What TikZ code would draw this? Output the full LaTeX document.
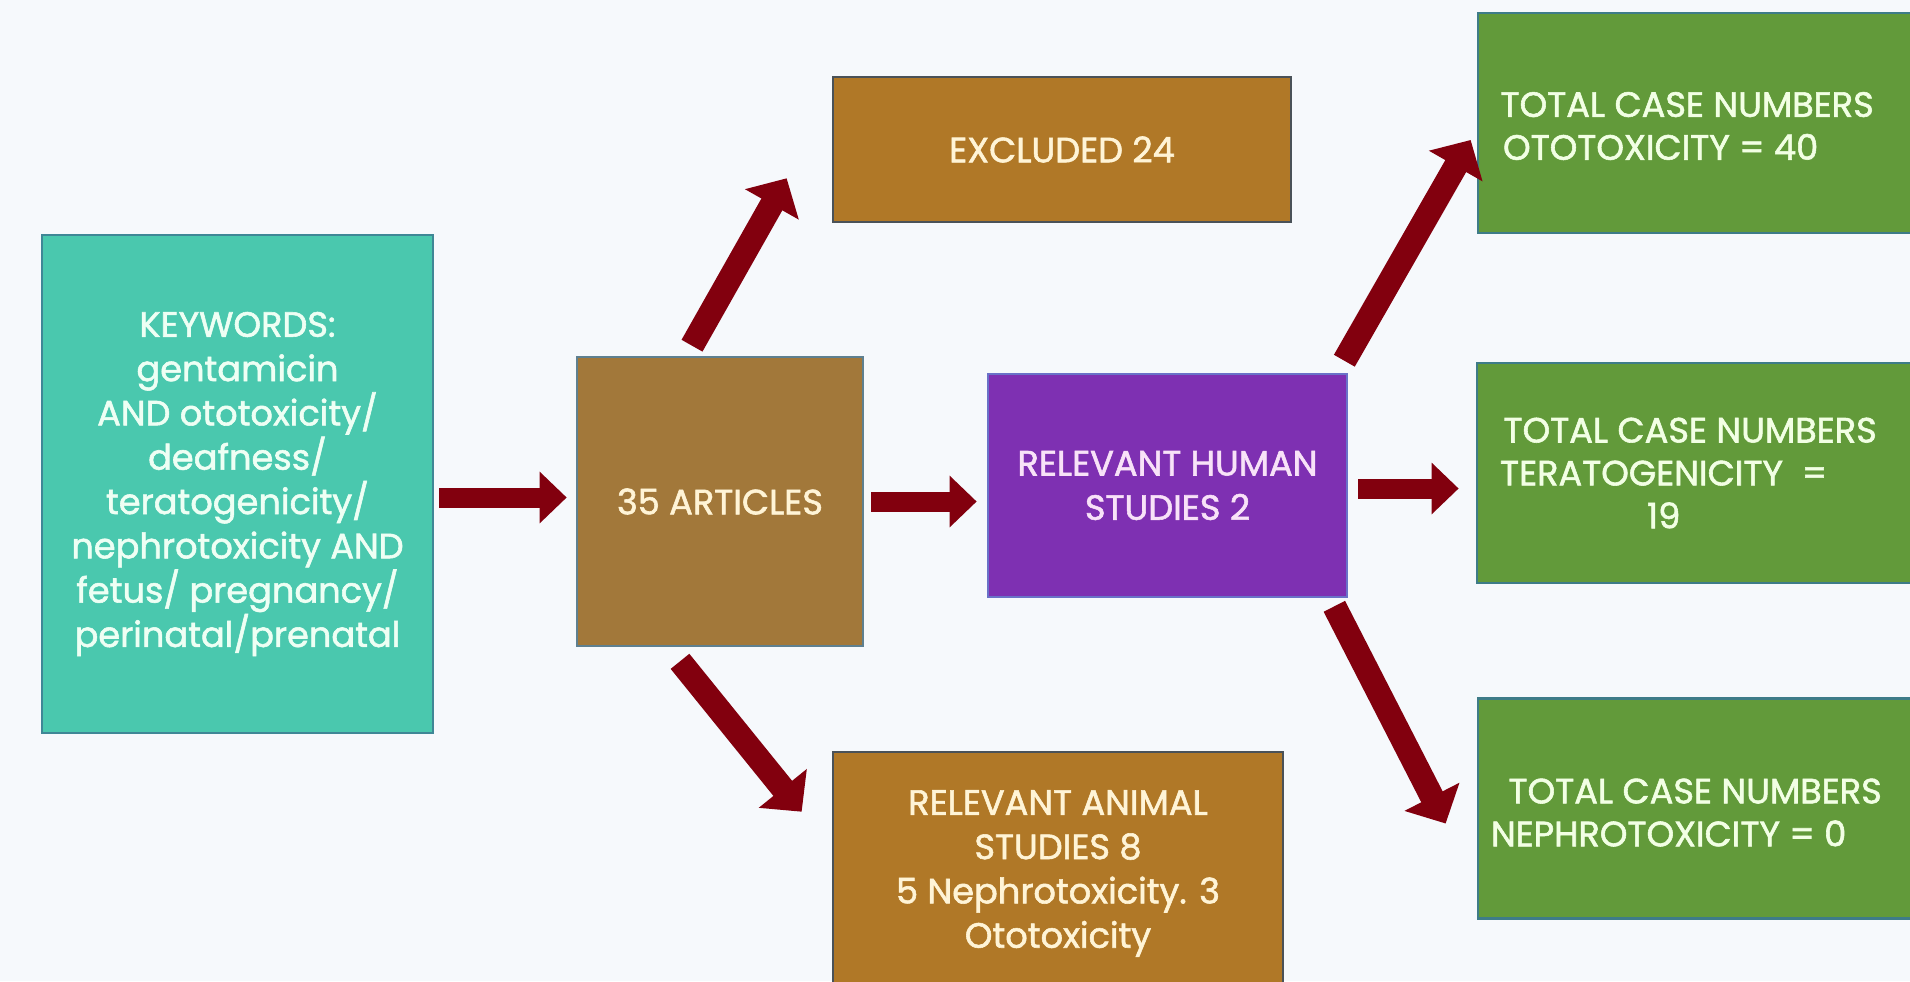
\documentclass[tikz,border=0pt]{standalone}
\usepackage{fontspec}
\setmainfont{Poppins}[FakeBold=1.6]
\usetikzlibrary{arrows.meta,calc}
\definecolor{bgpaper}{HTML}{F6F9FC}
\definecolor{keyteal}{HTML}{4AC8AE}
\definecolor{keyedge}{HTML}{3F8796}
\definecolor{keytext}{HTML}{EEFFF4}
\definecolor{artbrown}{HTML}{A2783A}
\definecolor{artedge}{HTML}{5E8090}
\definecolor{exclbrown}{HTML}{B07827}
\definecolor{excledge}{HTML}{4A5258}
\definecolor{browntext}{HTML}{FFF4D6}
\definecolor{humpurple}{HTML}{7E30B2}
\definecolor{humedge}{HTML}{6A72C8}
\definecolor{humtext}{HTML}{F8E2F8}
\definecolor{casegreen}{HTML}{629A3A}
\definecolor{caseedge}{HTML}{3E7C88}
\definecolor{casetext}{HTML}{F2FFE4}
\definecolor{arrowred}{HTML}{82000E}
\begin{document}
\begin{tikzpicture}[x=0.01cm,y=0.01cm]
\tikzstyle{every node}+=[inner sep=0pt, align=center, font=\fontsize{10}{12.6}\selectfont]
\tikzstyle{box}=[rectangle, draw, line width=0.7pt]
\tikzstyle{keybox}=[box, fill=keyteal, draw=keyedge, text=keytext]
\tikzstyle{artbox}=[box, fill=artbrown, draw=artedge, text=browntext]
\tikzstyle{exclbox}=[box, fill=exclbrown, draw=excledge, text=browntext]
\tikzstyle{humbox}=[box, fill=humpurple, draw=humedge, text=humtext]
\tikzstyle{casebox}=[box, fill=casegreen, draw=caseedge, minimum width=4.82cm, minimum height=2.2cm]
\tikzstyle{caselabel}=[text=casetext, font=\fontsize{10}{12.2}\selectfont]
\tikzstyle{bigarrow}=[arrowred, line width=0.2cm, -{Triangle[width=0.5cm,length=0.27cm]}]
\tikzstyle{slantarrow}=[arrowred, line width=0.24cm, -{Triangle[width=0.6cm,length=0.3cm]}]
\useasboundingbox (0,0) rectangle (1910,-981);
\clip (0,0) rectangle (1910,-981);
\fill [bgpaper] (0,0) rectangle (1910,-981);
\node [keybox, minimum width=3.91cm, minimum height=4.98cm] (kw) at (237.5,-484) {KEYWORDS:\\gentamicin\\AND ototoxicity/\\deafness/\\teratogenicity/\\nephrotoxicity AND\\fetus/ pregnancy/\\perinatal/prenatal};
\node [artbox, minimum width=2.86cm, minimum height=2.89cm] (art) at (720,-501.5) {35 ARTICLES};
\node [exclbox, minimum width=4.58cm, minimum height=1.45cm] (excl) at (1062,-149.5) {EXCLUDED 24};
\node [exclbox, minimum width=4.5cm, minimum height=2.43cm] (anim) at (1058,-873.5) {RELEVANT ANIMAL\\STUDIES 8\\5 Nephrotoxicity. 3\\Ototoxicity};
\node [humbox, minimum width=3.59cm, minimum height=2.23cm] (hum) at (1167.5,-485.5) {RELEVANT HUMAN\\STUDIES 2};
\node [casebox] (oto) at (1719,-123) {};
\node [casebox] (ter) at (1718,-473) {};
\node [casebox] (nep) at (1719,-808.5) {};
\node [caselabel] (ototxt) at ($(oto.west)+(184,-3)$) {\makebox[3.2cm][l]{TOTAL CASE NUMBERS}\\OTOTOXICITY = 40};
\node [caselabel] (tertxt) at ($(ter.west)+(188,0)$) {\makebox[3.2cm][l]{TOTAL CASE NUMBERS}\\TERATOGENICITY\ \ =\\19};
\node [caselabel] (neptxt) at ($(nep.west)+(192,-4)$) {\makebox[3.2cm][l]{TOTAL CASE NUMBERS}\\NEPHROTOXICITY = 0};
\draw [bigarrow] ($(kw.east |- art.west)+(5,4)$) -- ($(art.west)+(-9,4)$);
\draw [bigarrow] ($(art.east)+(7,0)$) -- ($(art.east -| hum.west)+(-10,0)$);
\draw [bigarrow] ($(hum.east)+(10,-3)$) -- ($(hum.east -| ter.west)+(-17,-3)$);
\draw [slantarrow] ($(art.north)+(-28,10)$) -- ($(excl.south west)+(-45,45)$);
\draw [slantarrow] ($(art.south)+(-40,-14)$) -- ($(anim.north west)+(-30,-61)$);
\draw [slantarrow] ($(hum.north east)+(-4,12)$) -- ($(oto.west)+(-6,-17)$);
\draw [slantarrow] ($(hum.south east)+(-14,-8)$) -- ($(nep.west)+(-31,-15)$);
\end{tikzpicture}
\end{document}
